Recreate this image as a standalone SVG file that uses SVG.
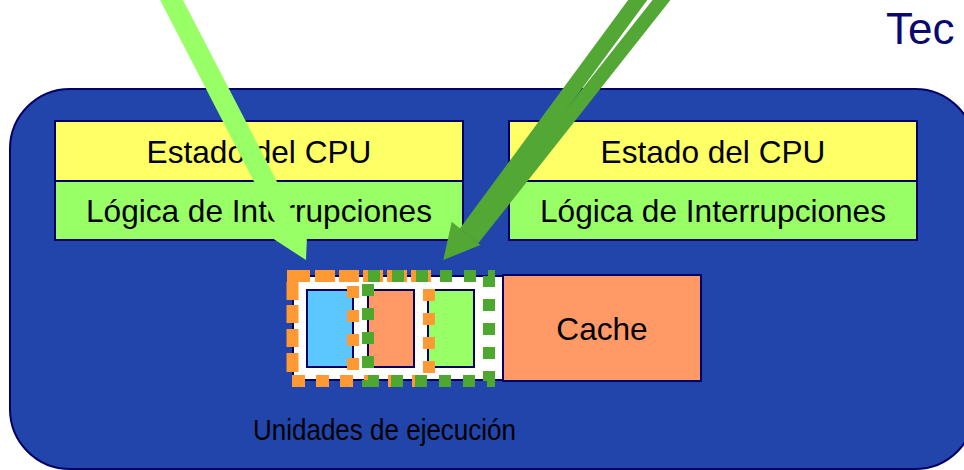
<svg xmlns="http://www.w3.org/2000/svg" width="964" height="470" viewBox="0 0 964 470">
  <style>
    .box { stroke: #000066; stroke-width: 2; }
    .yellow { fill: #FFFF66; }
    .lime { fill: #99FF66; }
    .label { font-family: "Liberation Sans", Arial, sans-serif; font-size: 31.6px; fill: #000000; text-anchor: middle; }
    .od { fill: none; stroke: #FF9933; stroke-width: 12; }
    .gd { fill: none; stroke: #4EA72E; stroke-width: 12; stroke-dasharray: 12 12; }
  </style>

  <rect width="964" height="470" fill="#FFFFFF"/>

  <!-- title fragment -->
  <text id="title" x="886" y="44" font-family="'Liberation Sans', Arial, sans-serif" font-size="44" fill="#0A0A6E">Tec</text>

  <!-- processor package -->
  <g id="package">
    <rect x="10" y="89" width="965" height="380" rx="60" ry="60" fill="#2145AB" stroke="#000066" stroke-width="2"/>
  </g>

  <!-- logical processor 1 -->
  <g id="cpu-state-1">
    <rect class="box yellow" x="55" y="121" width="408" height="60"/>
    <rect class="box lime" x="55" y="181" width="408" height="59"/>
    <text class="label" x="259" y="162.5">Estado del CPU</text>
    <text class="label" x="259" y="222">Lógica de Interrupciones</text>
  </g>

  <!-- logical processor 2 -->
  <g id="cpu-state-2">
    <rect class="box yellow" x="509" y="121" width="408" height="60"/>
    <rect class="box lime" x="509" y="181" width="408" height="59"/>
    <text class="label" x="713" y="162.5">Estado del CPU</text>
    <text class="label" x="713" y="222">Lógica de Interrupciones</text>
  </g>

  <!-- shared execution units -->
  <g id="exec-units">
    <rect class="box" x="293" y="276" width="210" height="104" fill="#FFFFFF"/>
    <rect class="box" x="307" y="290" width="46" height="77" fill="#5CC6FF"/>
    <rect class="box" x="368" y="290" width="46" height="77" fill="#FF9966"/>
    <rect class="box" x="428" y="290" width="46" height="77" fill="#99FF66"/>
    <!-- thread 1 usage outline -->
    <path class="od" d="M287 276 H431" stroke-dasharray="23 5 20 4 20 4 20 4 20 4 20 50"/>
    <path class="od" d="M292.5 282 V372" stroke-dasharray="18 5 18 6 18 6 19 20"/>
    <path class="od" d="M292 381 H425" stroke-dasharray="13 11"/>
    <path class="od" d="M353 286 V370" stroke-dasharray="12 12"/>
    <path class="od" d="M429 289 V373" stroke-dasharray="12 12"/>
    <!-- thread 2 usage outline -->
    <rect class="gd" x="368" y="276" width="121" height="105"/>
  </g>

  <g id="cache">
    <rect class="box" x="503" y="275" width="198" height="106" fill="#FF9966"/>
    <text class="label" x="602" y="340">Cache</text>
  </g>

  <g id="exec-label">
    <text x="253" y="440" font-family="'Liberation Sans', Arial, sans-serif" font-size="30" fill="#000000" textLength="263" lengthAdjust="spacingAndGlyphs">Unidades de ejecución</text>
  </g>

  <!-- thread arrows -->
  <g id="connectors">
    <polygon fill="#99FF66" points="152.14,-15.32 170.26,-24.68 298.96,224.2 307.7,219.7 306,260 272.1,238.1 280.84,233.6"/>
    <g fill="#52A735">
      <polygon points="658.64,-15.43 646.24,-24.57 459.65,228.78 472.05,237.92"/>
      <polygon points="682.79,-15.66 671.81,-24.34 467.26,234.66 478.24,243.34"/>
      <polygon points="451.7,221.7 480.5,245 443.3,260"/>
    </g>
  </g>
</svg>
